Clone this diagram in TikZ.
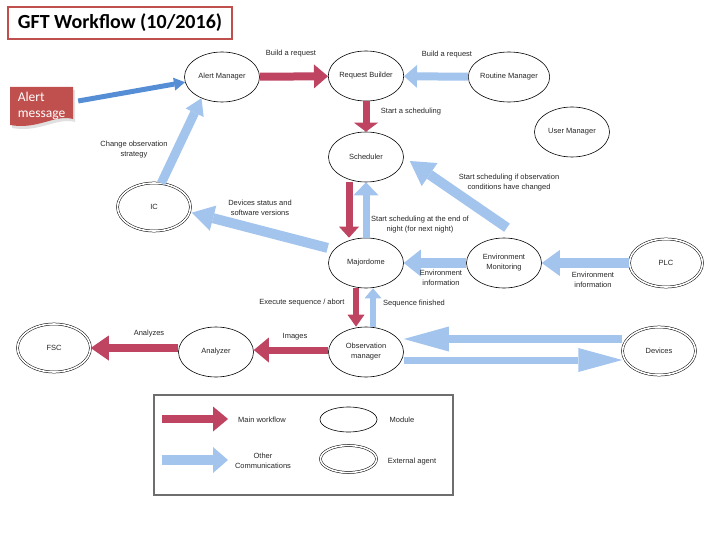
\documentclass[tikz,border=0pt]{standalone}
\usepackage{fontspec}
\setmainfont{Liberation Sans}
\newfontfamily\calfont{Carlito}
\usetikzlibrary{shapes.geometric,arrows.meta}

\definecolor{mainred}{RGB}{190,68,98}
\definecolor{otherblue}{RGB}{163,196,236}
\definecolor{alertblue}{RGB}{85,142,213}
\definecolor{boxred}{RGB}{192,80,77}
\definecolor{legendgray}{RGB}{110,110,110}

\begin{document}
\begin{tikzpicture}[x=1pt, y=-1pt,
  font=\fontsize{7.5}{10}\selectfont, text=black!85,
  module/.style={draw, ellipse, minimum width=75pt, minimum height=50pt,
                 inner sep=0pt, align=center, line width=0.6pt},
  agent/.style={module, minimum width=73pt, minimum height=48pt,
                double, double distance=1.6pt, line width=0.5pt},
  lbl/.style={align=center, inner sep=1pt},
  main/.style n args={3}{draw=mainred, line width=#1,
                 -{Triangle[width=#2, length=#3, line width=0pt]}},
  other/.style n args={3}{draw=otherblue, line width=#1,
                 -{Triangle[width=#2, length=#3, line width=0pt]}}
]
  \useasboundingbox (0,0) rectangle (720,540);

  \node[draw=boxred, line width=1.2pt, minimum width=224pt, minimum height=32pt,
        font=\calfont\bfseries\fontsize{20}{24}\selectfont, text=black]
        (title) at (120,23) {GFT Workflow (10/2016)};

  \fill[black!12] (12,90) -- (75,90) -- (75,122)
        .. controls (57,117) and (40,133) .. (12,128) -- cycle;
  \fill[boxred] (10,87) -- (73,87) -- (73,119)
        .. controls (55,114) and (38,130) .. (10,125) -- cycle;
  \node[minimum width=63pt, minimum height=38pt, inner sep=0pt, align=left,
        text=white, font=\calfont\fontsize{13.5}{16}\selectfont]
        (alert) at (41.5,106) {Alert\\message};

  \node[module] (am)    at (222,77)  {Alert Manager};
  \node[module] (rb)    at (366,76)  {Request Builder};
  \node[module] (rm)    at (509,77)  {Routine Manager};
  \node[module] (um)    at (572,132) {User Manager};
  \node[module] (sched) at (366,157) {Scheduler};
  \node[agent]  (ic)    at (154,207) {IC};
  \node[module] (maj)   at (366,263) {Majordome};
  \node[module] (env)   at (504,263) {Environment\\Monitoring};
  \node[agent]  (plc)   at (666,263) {PLC};
  \node[module] (om)    at (366,352) {Observation\\manager};
  \node[module] (ana)   at (216,352) {Analyzer};
  \node[agent]  (fsc)   at (54,348)  {FSC};
  \node[agent]  (dev)   at (659,351) {Devices};

  \draw[draw=alertblue, line width=5pt,
        -{Triangle[width=13pt, length=11pt, line width=0pt]}]
        ([shift={(5,-5)}]alert.east) -- (am.188);
  \draw[main={8pt}{24pt}{14pt}] (am) -- (rb);
  \draw[other={8pt}{23pt}{13pt}] (rm) -- (rb);
  \draw[main={7pt}{24pt}{9pt}] (rb) -- (sched);
  \draw[other={9pt}{20pt}{16pt}] (ic.73) -- (am.226);
  \draw[main={7pt}{20pt}{11pt}] ([xshift=-17pt]sched.south) -- ([xshift=-17pt]maj.north);
  \draw[other={7pt}{25pt}{13pt}] (maj) -- (sched);
  \draw[other={10pt}{28pt}{24pt}] ([shift={(3,-10)}]env.north) -- ([shift={(6,4)}]sched.east);
  \draw[other={10pt}{26pt}{22pt}] ([shift={(-6,-2)}]maj.158) -- ([xshift=2pt]ic.-9);
  \draw[other={10pt}{27pt}{17pt}] (env) -- (maj);
  \draw[other={10pt}{26pt}{18pt}] (plc) -- (env);
  \draw[main={6pt}{17pt}{12pt}] ([xshift=-10pt]maj.south) -- ([xshift=-10pt]om.north);
  \draw[other={6pt}{17pt}{10pt}] ([xshift=7pt]om.north) -- ([xshift=7pt]maj.south);
  \draw[main={7pt}{25pt}{15pt}] ([yshift=2pt]om.west) -- ([yshift=2pt]ana.east);
  \draw[main={8pt}{25pt}{18pt}] ([yshift=4pt]ana.west) -- (fsc.east);
  \draw[other={8pt}{25pt}{45pt}] ([yshift=12pt]dev.west) -- ([yshift=13pt]om.east);
  \draw[other={7pt}{24pt}{44pt}] ([yshift=-8pt]om.east) -- ([yshift=-9pt]dev.west);

  \node[lbl] (lbuild)  at (291,54)  {Build a request};
  \node[lbl] (lroute)  at (447,55)  {Build a request};
  \node[lbl] (lstart)  at (411,112) {Start a scheduling};
  \node[lbl] (lchange) at (134,150) {Change observation\\strategy};
  \node[lbl] (lstatus) at (260,208) {Devices status and\\software versions};
  \node[lbl] (lcond)   at (509,183) {Start scheduling if observation\\conditions have changed};
  \node[lbl] (lnight)  at (420,225) {Start scheduling at the end of\\night (for next night)};
  \node[lbl] (lenvm)   at (441,278) {Environment\\information};
  \node[lbl] (lplc)    at (593,280) {Environment\\information};
  \node[lbl] (lexec)   at (302,303) {Execute sequence / abort};
  \node[lbl] (lseq)    at (414,304) {Sequence finished};
  \node[lbl] (limg)    at (295,337) {Images};
  \node[lbl] (lana)    at (149,334) {Analyzes};

  \node[draw=legendgray, line width=1.5pt, minimum width=299pt,
        minimum height=100pt] (legend) at (303.5,445) {};
  \coordinate (lmain0) at (162,419);
  \coordinate (lmain1) at (228,419);
  \draw[main={8pt}{25pt}{15pt}] (lmain0) -- (lmain1);
  \node[lbl] (lmaintxt) at (262,420) {Main workflow};
  \node[module, minimum width=57pt, minimum height=25pt] (lmod) at (348.5,419.5) {};
  \node[lbl] (lmodtxt) at (402,420) {Module};
  \coordinate (loth0) at (162,460);
  \coordinate (loth1) at (228,460);
  \draw[other={10pt}{26pt}{15pt}] (loth0) -- (loth1);
  \node[lbl] (lothtxt) at (263,461) {Other\\Communications};
  \node[agent, minimum width=56pt, minimum height=27pt] (lext) at (348.5,459) {};
  \node[lbl] (lexttxt) at (412,462) {External agent};
\end{tikzpicture}
\end{document}
